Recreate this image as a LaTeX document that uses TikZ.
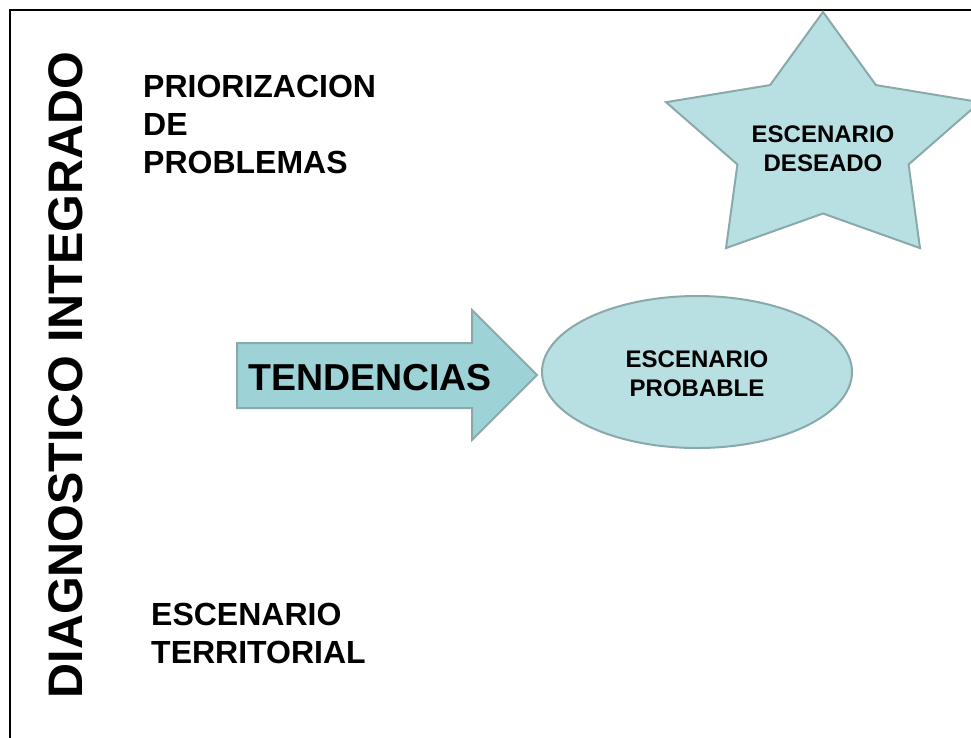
\documentclass[tikz,border=0pt]{standalone}
\usepackage{fontspec}
\setmainfont{Liberation Sans}
\usetikzlibrary{shapes.geometric}
\definecolor{escfill}{HTML}{B8DFE2}
\definecolor{tendfill}{HTML}{9DD3D7}
\definecolor{escline}{HTML}{8AA9AA}
\begin{document}
\begin{tikzpicture}[x=1pt,y=-1pt,
    lbl/.style={font=\bfseries\fontsize{32}{38}\selectfont,align=left,inner sep=0pt,anchor=base west},
    esc/.style={draw=escline,line width=2pt},
    esctxt/.style={font=\bfseries\fontsize{24}{29}\selectfont,align=center,inner sep=0pt}]
    \useasboundingbox (0,0) rectangle (971,737);
    \draw[line width=2pt] (10,745) -- (10,10) -- (980,10);
    % titulo vertical
    \node (diag) [rotate=90,anchor=base,inner sep=0pt,font=\bfseries\fontsize{48.5}{58}\selectfont] at (82,375) {DIAGNOSTICO INTEGRADO};
    \node (prio) [lbl] at (143,173) {PRIORIZACION\\DE\\PROBLEMAS};
    \node (terr) [lbl] at (151,663) {ESCENARIO\\TERRITORIAL};
    % estrella
    \coordinate (sc) at (823,142.5);
    \draw[esc,fill=escfill] (sc) +(90:165pt and 130.5pt) -- +(126:90pt and 71pt)
      -- +(162:165pt and 130.5pt) -- +(198:90pt and 71pt)
      -- +(234:165pt and 130.5pt) -- +(270:90pt and 71pt)
      -- +(306:165pt and 130.5pt) -- +(342:90pt and 71pt)
      -- +(18:165pt and 130.5pt) -- +(54:90pt and 71pt) -- cycle;
    \node (deseado) [esctxt] at (823,149) {ESCENARIO\\DESEADO};
    % flecha
    \draw[esc,fill=tendfill] (237,343) -- (472,343) -- (472,310) -- (537,375)
      -- (472,440) -- (472,408) -- (237,408) -- cycle;
    \node (tend) [inner sep=0pt,font=\bfseries\fontsize{37.5}{45}\selectfont] at (370,378) {TENDENCIAS};
    \node (probable) [esc,fill=escfill,ellipse,minimum width=310pt,minimum height=152pt] at (697,372) {};
    \node (probtxt) [esctxt] at (697,374) {ESCENARIO\\PROBABLE};
\end{tikzpicture}
\end{document}
